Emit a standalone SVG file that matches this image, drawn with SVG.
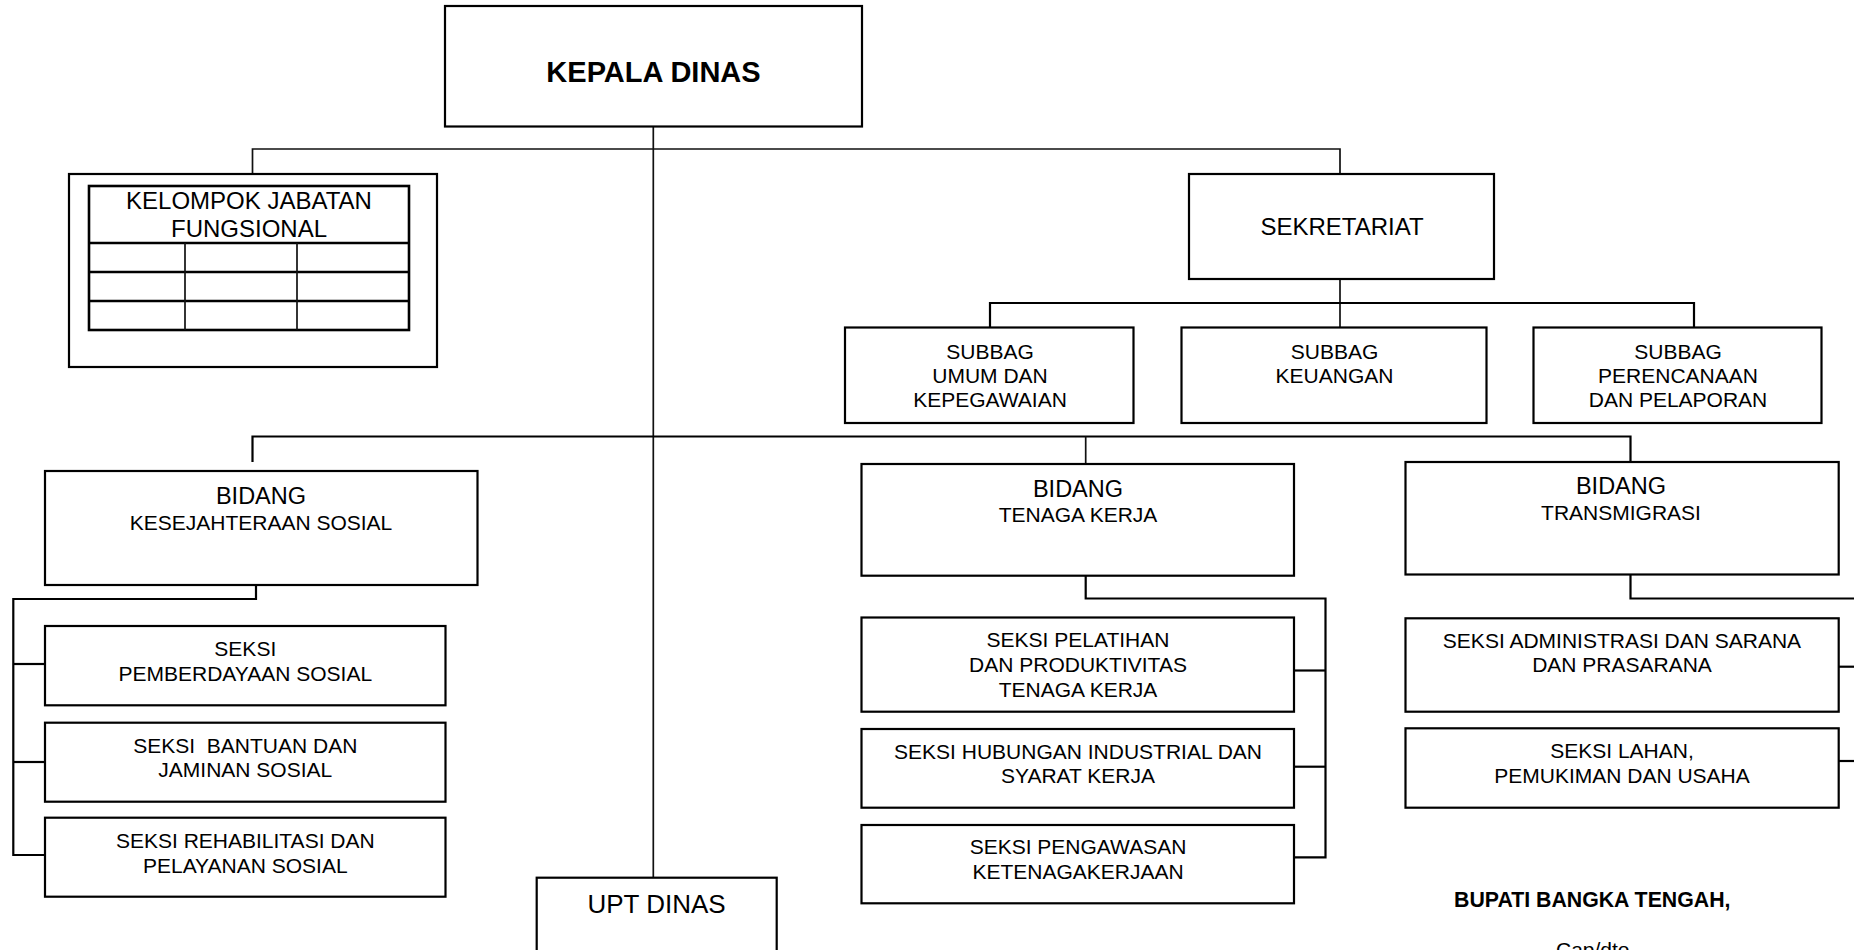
<svg xmlns="http://www.w3.org/2000/svg" width="1854" height="950" viewBox="0 0 1854 950">
<style>
.box{fill:#fff;stroke:#000;stroke-width:2.2}
.ln{fill:none;stroke:#000;stroke-width:2.2}
.thin{fill:none;stroke:#111;stroke-width:1.7}
text{font-family:"Liberation Sans",Arial,sans-serif;fill:#000;text-anchor:middle}
.t{font-size:21px}
.bid{font-size:23.5px}
.hd{font-size:24px}
</style>
<rect width="1854" height="950" fill="#fff"/>
<g id="connectors">
<line class="thin" x1="653.3" y1="126" x2="653.3" y2="877.7"/>
<polyline class="thin" points="252.5,174 252.5,149 1340,149 1340,174"/>
<line class="thin" x1="1340" y1="279" x2="1340" y2="327.5"/>
<polyline class="ln" points="990,327.5 990,303 1694,303 1694,327.5"/>
<polyline class="ln" points="252.5,462 252.5,436.5 1630.5,436.5 1630.5,462"/>
<line class="thin" x1="1085.7" y1="436.5" x2="1085.7" y2="464"/>
<polyline class="ln" points="256,585 256,599 13.3,599 13.3,855 45,855"/>
<line class="ln" x1="13.3" y1="664" x2="45" y2="664"/>
<line class="ln" x1="13.3" y1="762" x2="45" y2="762"/>
<polyline class="ln" points="1085.7,574.7 1085.7,598.5 1325.5,598.5 1325.5,857.3 1294,857.3"/>
<line class="ln" x1="1294" y1="670.5" x2="1325.5" y2="670.5"/>
<line class="ln" x1="1294" y1="766.7" x2="1325.5" y2="766.7"/>
<polyline class="ln" points="1630.5,574.5 1630.5,598.5 1870,598.5 1870,770"/>
<line class="ln" x1="1838.7" y1="666.7" x2="1870" y2="666.7"/>
<line class="ln" x1="1838.7" y1="761" x2="1870" y2="761"/>
</g>
<g id="kepala">
<rect class="box" x="445" y="6" width="417" height="120.5"/>
<text x="653.5" y="82" style="font-size:29px;font-weight:bold">KEPALA DINAS</text>
</g>
<g id="kjf">
<rect class="box" x="69" y="174" width="368" height="193"/>
<rect class="box" x="89" y="186" width="320" height="144" style="stroke-width:2.6"/>
<line class="ln" x1="89" y1="243" x2="409" y2="243" style="stroke-width:2.6"/>
<line class="ln" x1="89" y1="272" x2="409" y2="272" style="stroke-width:2.6"/>
<line class="ln" x1="89" y1="301" x2="409" y2="301" style="stroke-width:2.6"/>
<line class="thin" x1="185" y1="243" x2="185" y2="330"/>
<line class="thin" x1="297" y1="243" x2="297" y2="330"/>
<text class="hd" x="249" y="209">KELOMPOK JABATAN</text>
<text class="hd" x="249" y="237">FUNGSIONAL</text>
</g>
<g id="sekretariat">
<rect class="box" x="1189" y="174" width="305" height="105"/>
<text x="1342" y="235" style="font-size:24px">SEKRETARIAT</text>
</g>
<g id="subbag-umum">
<rect class="box" x="845" y="327.5" width="288.5" height="95.5"/>
<text class="t" x="990" y="359">SUBBAG</text>
<text class="t" x="990" y="383">UMUM DAN</text>
<text class="t" x="990" y="407">KEPEGAWAIAN</text>
</g>
<g id="subbag-keuangan">
<rect class="box" x="1181.5" y="327.5" width="305" height="95.5"/>
<text class="t" x="1334.5" y="359">SUBBAG</text>
<text class="t" x="1334.5" y="383">KEUANGAN</text>
</g>
<g id="subbag-perencanaan">
<rect class="box" x="1533.5" y="327.5" width="288" height="95.5"/>
<text class="t" x="1678" y="359">SUBBAG</text>
<text class="t" x="1678" y="383">PERENCANAAN</text>
<text class="t" x="1678" y="407">DAN PELAPORAN</text>
</g>
<g id="bidang-kesos">
<rect class="box" x="45" y="471" width="432.5" height="114"/>
<text class="bid" x="261" y="504">BIDANG</text>
<text class="t" x="261" y="530">KESEJAHTERAAN SOSIAL</text>
</g>
<g id="bidang-tk">
<rect class="box" x="861.5" y="464" width="432.5" height="111.7"/>
<text class="bid" x="1078" y="496.7">BIDANG</text>
<text class="t" x="1078" y="521.7">TENAGA KERJA</text>
</g>
<g id="bidang-trans">
<rect class="box" x="1405.5" y="462" width="433.2" height="112.5"/>
<text class="bid" x="1621" y="494">BIDANG</text>
<text class="t" x="1621" y="519.5">TRANSMIGRASI</text>
</g>
<g id="seksi-pemberdayaan">
<rect class="box" x="45" y="626" width="400.5" height="79.3"/>
<text class="t" x="245.3" y="656">SEKSI</text>
<text class="t" x="245.3" y="680.7">PEMBERDAYAAN SOSIAL</text>
</g>
<g id="seksi-bantuan">
<rect class="box" x="45" y="722.7" width="400.5" height="79"/>
<text class="t" x="245.3" y="752.7" xml:space="preserve">SEKSI  BANTUAN DAN</text>
<text class="t" x="245.3" y="776.7">JAMINAN SOSIAL</text>
</g>
<g id="seksi-rehabilitasi">
<rect class="box" x="45" y="817.7" width="400.5" height="79"/>
<text class="t" x="245.3" y="847.7">SEKSI REHABILITASI DAN</text>
<text class="t" x="245.3" y="872.7">PELAYANAN SOSIAL</text>
</g>
<g id="seksi-pelatihan">
<rect class="box" x="861.5" y="617.5" width="432.5" height="94.2"/>
<text class="t" x="1078" y="647.3">SEKSI PELATIHAN</text>
<text class="t" x="1078" y="672.3">DAN PRODUKTIVITAS</text>
<text class="t" x="1078" y="696.7">TENAGA KERJA</text>
</g>
<g id="seksi-hubungan">
<rect class="box" x="861.5" y="729" width="432.5" height="78.7"/>
<text class="t" x="1078" y="759">SEKSI HUBUNGAN INDUSTRIAL DAN</text>
<text class="t" x="1078" y="783.3">SYARAT KERJA</text>
</g>
<g id="seksi-pengawasan">
<rect class="box" x="861.5" y="825" width="432.5" height="78.3"/>
<text class="t" x="1078" y="854.3">SEKSI PENGAWASAN</text>
<text class="t" x="1078" y="879.3">KETENAGAKERJAAN</text>
</g>
<g id="seksi-administrasi">
<rect class="box" x="1405.5" y="618.3" width="433.2" height="93.4"/>
<text class="t" x="1622" y="648.3">SEKSI ADMINISTRASI DAN SARANA</text>
<text class="t" x="1622" y="672.3">DAN PRASARANA</text>
</g>
<g id="seksi-lahan">
<rect class="box" x="1405.5" y="728.3" width="433.2" height="79.4"/>
<text class="t" x="1622" y="758.3">SEKSI LAHAN,</text>
<text class="t" x="1622" y="782.7">PEMUKIMAN DAN USAHA</text>
</g>
<g id="upt">
<rect class="box" x="536.7" y="877.7" width="240" height="80"/>
<text x="656.5" y="913" style="font-size:26px">UPT DINAS</text>
</g>
<g id="signature">
<text x="1454" y="906.7" style="font-size:21.3px;font-weight:bold;text-anchor:start">BUPATI BANGKA TENGAH,</text>
<text x="1556" y="957" style="font-size:21px;text-anchor:start">Cap/dto</text>
</g>
</svg>
